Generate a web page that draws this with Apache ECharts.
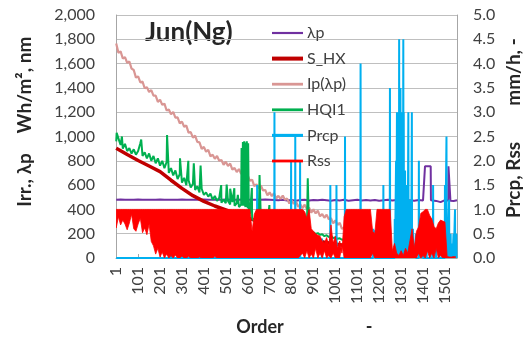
<!DOCTYPE html>
<html><head><meta charset="utf-8">
<script src="https://cdn.jsdelivr.net/npm/echarts@6/dist/echarts.min.js"></script>
<style>html,body{margin:0;padding:0;background:#fff}#c{width:532px;height:340px}</style>
</head><body><div id="c"></div>
<script>
// ---- tick labels ----
var xLabels = ['1','101','201','301','401','501','601','701','801','901','1001','1101','1201','1301','1401','1501'];
var lastOrder = 1556;

// ---- λp (nm), every 20 orders from 1, plus step edges ----
var lambdaStep = 20;
var lambdaP = [480,481,480,479,480,481,480,480,479,480,481,480,480,479,480,481,480,480,479,480,481,480,479,480,480,481,480,479,480,481,480,480,479,480,481,480,
  478,476,480,474,478,472,477,479,473,478,475,480,476,472,478,474,479,471,476,480,474,477,473,478,471,476,479,473,477,474,
  470,476,472,478,474,755,476,470,460,476,755,470];
var lambdaEndOrder = [1409,1410,1436,1437,1516,1517,1525,1526,1556];
var lambdaEndValue = [477,755,755,476,474,755,755,472,475];

// ---- S_HX (Wh/m2) ----
var shxOrder = [1,51,101,151,201,251,301,351,401,451,501,551,601,651,701,751,801,851,901,951,1001,1036];
var shxValue = [903,852,802,757,711,640,573,513,466,428,395,362,330,300,272,245,218,190,150,130,115,105];

// ---- Ip(λp) (Wh/m2), every 10 orders from 1 ----
var ipStep = 10;
var ipValue = [1765,1690,1700,1642,1653,1606,1617,1559,1547,1485,1495,1445,1452,1397,1406,1366,1382,1336,1337,1285,
  1303,1260,1270,1214,1222,1183,1202,1156,1157,1108,1123,1080,1090,1032,1036,991,1007,956,952,898,
  915,875,890,837,850,816,840,800,807,767,793,758,777,727,741,708,732,692,700,658,
  680,635,645,592,606,574,597,556,560,516,540,509,533,490,512,486,514,479,489,449,
  477,445,468,422,441,411,439,403,413,373,400,367,389,343,361,331,357,319,327,285,
  310,273,290,239,253];

// ---- HQI1 (Wh/m2), every 10 orders from 1, plus spikes ----
var hqiStep = 10;
var hqiValue = [960,985,930,900,940,880,905,860,895,850,880,945,840,870,820,860,800,840,780,820,
  760,800,740,790,700,740,680,720,650,690,620,660,600,640,580,610,560,590,540,570,
  520,540,505,530,480,510,470,495,455,480,450,470,440,460,430,450,420,440,430,420,
  410,360,330,300,310,290,320,300,310,290,300,280,290,270,280,265,270,255,262,245,
  255,238,245,230,238,222,228,215,220,205,212,198,205,190,196,180,188,172,178,165,
  170,158,162,150,155];
var hqiSpikeOrder = [3,27,115,233,292,330,355,386,480,505,521,540,556,573,576,579,582,585,588,591,594,597,600,603,606,620,655,700,875];
var hqiSpikeValue = [1030,1000,975,1012,820,800,780,760,600,605,570,575,520,905,430,955,430,960,440,950,420,960,430,945,400,576,683,436,656];

// ---- Prcp (mm/h): non-zero hours ----
var prcpOrder = [251,302,370,644,723,799,818,840,940,978,1006,1045,1116,1174,1182,1220,1250,1272,1278,1282,1285,1287,1290,1292,1294,1296,1298,1300,1302,1305,1308,1311,1313,1316,1319,1322,1326,1330,1334,1338,1342,1346,1350,1355,1362,1368,1382,1390,1400,1417,1435,1447,1460,1475,1501,1508,1512,1520,1527,1535,1540,1547,1553];
var prcpValue = [0.33,0.12,0.05,1.5,3.0,2.0,2.5,2.0,0.4,1.5,1.5,2.5,4.0,0.6,0.57,1.5,3.5,0.8,2.0,3.0,1.0,3.0,2.5,4.5,3.0,1.5,3.5,2.0,3.0,1.0,2.5,4.5,3.0,1.0,1.8,1.5,0.5,1.5,3.0,0.8,1.2,0.4,3.0,0.6,0.3,0.5,2.0,0.4,0.3,0.6,0.5,1.5,0.6,0.4,1.5,2.5,0.8,1.2,0.5,0.3,0.5,1.0,0.5];

// ---- Rss (-): upper and lower envelope of the hourly swings, every 10 orders from 1 ----
var rssStep = 10;
var rssHigh = [1,1,1,1,1,1,1,1,1,1,1,1,1,1,1,1,1,
  1,1,1,1,1,1,1,1,1,1,1,1,1,1,1,1,1,1,1,1,1,1,1,1,1,1,1,1,1,1,1,1,1,1,1,1,1,1,1,1,
  1,1,1,1,1,0.55,0.9,1,
  1,1,1,1,1,1,1,1,1,1,1,1,1,1,1,1,1,1,1,1,
  1,0.95,0.82,1,0.6,0.55,0.5,0.47,0.45,0.35,0.3,0.42,0.25,0.68,0.3,0.45,0.2,0.35,0.1,0.85,
  1,1,1,1,1,1,1,1,1,1,1,1,
  0.55,0.5,
  1,1,1,1,1,1,1,
  0.15,0.3,0.1,0.05,0.15,0.05,0.2,0.1,0.35,0.6,0.2,0.55,0.64,0.92,0.95,1,1,0.88,0.8,0.65,0.6,0.72,0.78,0.76,0.74,0.03,0.02,0.02,0.03,0.02];
var rssLow = [0.62,0.85,0.68,0.78,0.7,0.58,0.72,0.9,0.6,0.55,0.7,0.82,0.52,0.62,0.48,0.7,0.34,
  0.25,0.08,0.2,0.02,0.12,0,0.08,0,0.05,0,0.06,0,0,0.04,0,0,0.03,0,0,0,0,0.02,0,0,0,0,0,0,0.03,0,0,0,0,0,0,0,0,0,0,
  0,0,0,0,0,0,0,0,
  0,0,0,0,0,0,0,0,0,0,0,0,0,0,0,0,0,0,0,0,
  0.05,0.1,0,0.15,0,0.08,0,0.2,0,0.1,0,0.15,0,0.05,0,0.1,0,0,0,0.3,
  0,0,0,0,0,0,0,0,0,0,0,0,
  0,0.1,
  0,0,0,0,0,0,0,
  0,0,0,0,0,0,0,0,0,0,0,0,0,0.1,0,0.05,0,0.15,0,0.1,0,0.2,0,0.05,0,0,0,0,0,0];

// ---- build series data ----
function stepData(arr, step){ return arr.map(function(v,i){ return [1+i*step, v]; }); }
function mergeSorted(a, b){ return a.concat(b).sort(function(p,q){ return p[0]-q[0]; }); }
function pairs(xs, ys){ return xs.map(function(x,i){ return [x, ys[i]]; }); }

var lambdaData = mergeSorted(stepData(lambdaP, lambdaStep), pairs(lambdaEndOrder, lambdaEndValue));
var shxData = pairs(shxOrder, shxValue);
var ipData = stepData(ipValue, ipStep);
var hqiData = mergeSorted(stepData(hqiValue, hqiStep), pairs(hqiSpikeOrder, hqiSpikeValue));
var prcpData = [[1,0]];
prcpOrder.forEach(function(x,i){ prcpData.push([x-1,0],[x,prcpValue[i]],[x+1,0]); });
prcpData.push([lastOrder,0]);
var rssData = rssHigh.map(function(v,i){ return [1+i*rssStep, v, rssLow[i]]; });

var FONT = 'Lato';
function lineIcon(h){ return 'path://M0 0H100V' + h + 'H0Z'; }
var chart = echarts.init(document.getElementById('c'), null, {renderer:'canvas'});
chart.setOption({
  animation:false,
  backgroundColor:'#ffffff',
  textStyle:{fontFamily:FONT},
  grid:{left:116, top:15, width:341, height:243},
  legend:{
    data:[{name:'λp', icon:lineIcon(7)},{name:'S_HX', icon:lineIcon(13)},{name:'Ip(λp)', icon:lineIcon(9)},
          {name:'HQI1', icon:lineIcon(9)},{name:'Prcp', icon:lineIcon(10)},{name:'Rss', icon:lineIcon(9)}],
    orient:'vertical', left:272, top:25, padding:0, z:10,
    itemWidth:31, itemHeight:14, itemGap:9.6,
    textStyle:{fontFamily:FONT, fontSize:16, color:'#404040', padding:[0,0,0,-1]}
  },
  xAxis:{
    type:'value', min:0, max:lastOrder, interval:100,
    axisLine:{show:true, onZero:false, lineStyle:{color:'#A6A6A6'}},
    axisTick:{show:true, inside:true, length:4, lineStyle:{color:'#A6A6A6'}},
    splitLine:{show:false},
    axisLabel:{rotate:90, margin:9, fontSize:16, color:'#404040', fontFamily:FONT, showMaxLabel:false,
      formatter:function(v){ var k=Math.round(v/100); return (v%100===0 && xLabels[k]!==undefined)?xLabels[k]:''; }}
  },
  yAxis:[{
    type:'value', min:0, max:2000, interval:200,
    axisLine:{show:true, lineStyle:{color:'#A6A6A6'}},
    axisTick:{show:false},
    splitLine:{show:true, lineStyle:{color:'#BFBFBF', width:1}},
    axisLabel:{margin:21, fontSize:16, color:'#404040', fontFamily:FONT,
      formatter:function(v){ return v.toLocaleString('en-US'); }}
  },{
    type:'value', min:0, max:5, interval:0.5, position:'right',
    axisLine:{show:true, lineStyle:{color:'#A6A6A6'}},
    axisTick:{show:false},
    splitLine:{show:false},
    axisLabel:{margin:16, fontSize:16, color:'#404040', fontFamily:FONT,
      formatter:function(v){ return v.toFixed(1); }}
  }],
  series:[
    {name:'λp', type:'line', yAxisIndex:0, data:lambdaData, symbol:'none', color:'#7030A0', lineStyle:{color:'#7030A0', width:2}},
    {name:'S_HX', type:'line', yAxisIndex:0, data:shxData, symbol:'none', color:'#C00000', lineStyle:{color:'#C00000', width:3.5}},
    {name:'Ip(λp)', type:'line', yAxisIndex:0, data:ipData, symbol:'none', color:'#D99694', lineStyle:{color:'#D99694', width:2.2}},
    {name:'HQI1', type:'line', yAxisIndex:0, data:hqiData, symbol:'none', color:'#00B050', lineStyle:{color:'#00B050', width:2}},
    {name:'Prcp', type:'line', yAxisIndex:1, data:prcpData, symbol:'none', color:'#00B0F0', lineStyle:{color:'#00B0F0', width:2}},
    {name:'Rss', type:'custom', yAxisIndex:1, data:rssData, z:5, color:'#FF0000', itemStyle:{color:'#FF0000'},
      encode:{x:0, y:[1,2]}, clip:true,
      renderItem:function(params, api){
        if (params.dataIndex !== 0) return null;
        var pts = [], k;
        for (k = 0; k < rssData.length; k++) pts.push(api.coord([rssData[k][0], rssData[k][1]]));
        for (k = rssData.length - 1; k >= 0; k--) pts.push(api.coord([rssData[k][0], rssData[k][2]]));
        return {type:'polygon', shape:{points:pts}, style:{fill:'#FF0000', stroke:'#FF0000', lineWidth:0.8}};
      }}
  ],
  graphic:[
    {type:'text', x:145, y:33, style:{text:'Jun(Ng)', fontFamily:FONT, fontSize:26, fontWeight:'bold', fill:'#262626', align:'left', verticalAlign:'middle'}},
    {type:'text', x:25, y:85, rotation:Math.PI/2, style:{text:'Wh/m², nm', fontFamily:FONT, fontSize:19, fontWeight:'bold', fill:'#262626', align:'center', verticalAlign:'middle'}},
    {type:'text', x:25, y:180, rotation:Math.PI/2, style:{text:'Irr., λp', fontFamily:FONT, fontSize:19, fontWeight:'bold', fill:'#262626', align:'center', verticalAlign:'middle'}},
    {type:'text', x:514, y:72, rotation:Math.PI/2, style:{text:'mm/h, -', fontFamily:FONT, fontSize:19, fontWeight:'bold', fill:'#262626', align:'center', verticalAlign:'middle'}},
    {type:'text', x:514, y:180, rotation:Math.PI/2, style:{text:'Prcp, Rss', fontFamily:FONT, fontSize:19, fontWeight:'bold', fill:'#262626', align:'center', verticalAlign:'middle'}},
    {type:'text', x:260, y:327, style:{text:'Order', fontFamily:FONT, fontSize:18, fontWeight:'bold', fill:'#262626', align:'center', verticalAlign:'middle'}},
    {type:'text', x:369, y:327, style:{text:'-', fontFamily:FONT, fontSize:18, fontWeight:'bold', fill:'#262626', align:'center', verticalAlign:'middle'}}
  ]
});
</script></body></html>
